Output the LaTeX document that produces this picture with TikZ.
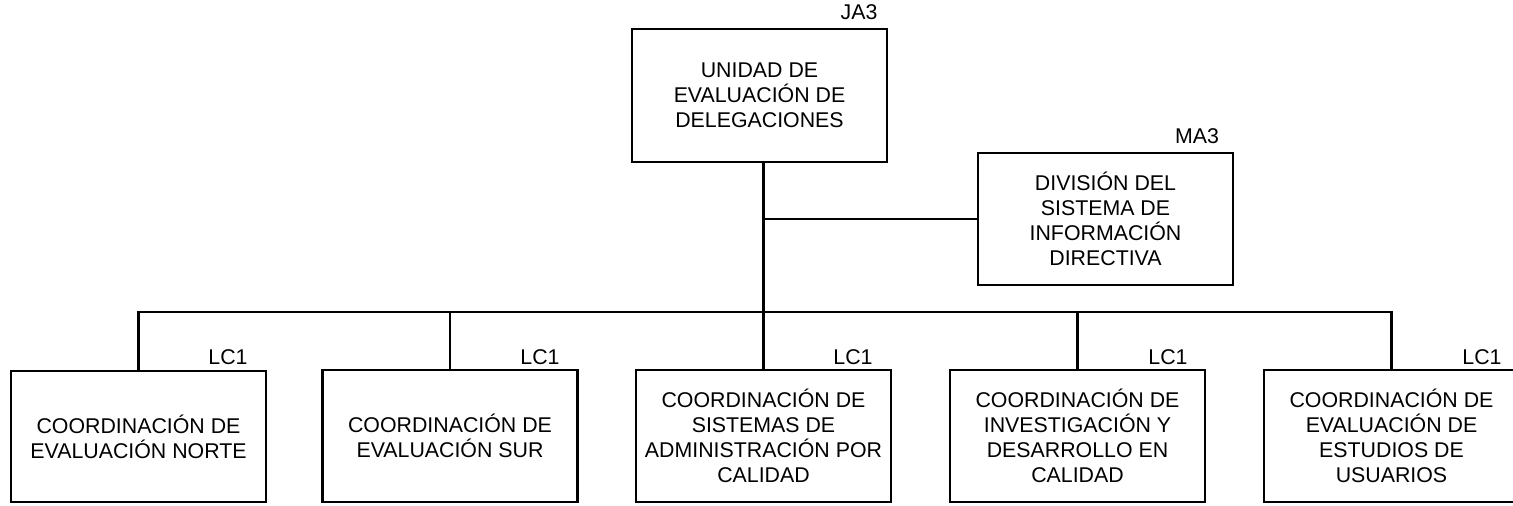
\documentclass[tikz,border=0pt]{standalone}
\usepackage{fontspec}
\setmainfont{Liberation Sans}
\begin{document}
\begin{tikzpicture}[x=0.75pt,y=-0.75pt,
  unitbox/.style={draw=black,line width=1.6pt,minimum width=255*0.75pt,align=center,
    font=\fontsize{16}{18.75}\selectfont,inner sep=0pt},
  lvl/.style={anchor=base,font=\fontsize{16}{18}\selectfont,inner sep=0pt},
  conn/.style={draw=black,line width=1.6pt}]
\useasboundingbox (0,0) rectangle (1513,506);
\clip (0,0) rectangle (1513,506);
\node[unitbox,minimum height=133*0.75pt] (top) at (759.5,95.5) {UNIDAD DE\\EVALUACIÓN DE\\DELEGACIONES};
\node[unitbox,minimum height=132*0.75pt] (ma) at (1105.5,219) {DIVISIÓN DEL\\SISTEMA DE\\INFORMACIÓN\\DIRECTIVA};
\node[unitbox,minimum height=131*0.75pt] (b1) at (138.5,436.5) {COORDINACIÓN DE\\EVALUACIÓN NORTE};
\node[unitbox,minimum height=132*0.75pt] (b2) at (450,436) {COORDINACIÓN DE\\EVALUACIÓN SUR};
\node[unitbox,minimum height=132*0.75pt] (b3) at (763.5,436) {COORDINACIÓN DE\\SISTEMAS DE\\ADMINISTRACIÓN POR\\CALIDAD};
\node[unitbox,minimum height=132*0.75pt] (b4) at (1077.5,436) {COORDINACIÓN DE\\INVESTIGACIÓN Y\\DESARROLLO EN\\CALIDAD};
\node[unitbox,minimum height=132*0.75pt] (b5) at (1391.5,436) {COORDINACIÓN DE\\EVALUACIÓN DE\\ESTUDIOS DE\\USUARIOS};
\node[lvl] (lja) at (859,20) {JA3};
\node[lvl] (lma) at (1197,144) {MA3};
\node[lvl] (l1) at (228,364) {LC1};
\node[lvl] (l2) at (540,364) {LC1};
\node[lvl] (l3) at (853,364) {LC1};
\node[lvl] (l4) at (1168,364) {LC1};
\node[lvl] (l5) at (1482,364) {LC1};
\coordinate (bus) at (763.5,312);
\path[conn] (top.south -| b3.north) -- (b3.north);
\path[conn] (ma.west) -- (ma.west -| b3.north);
\path[conn] (b1.north) |- (bus) -| (b5.north);
\path[conn] (b2.north |- bus) -- (b2.north);
\path[conn] (b4.north |- bus) -- (b4.north);
\end{tikzpicture}
\end{document}
